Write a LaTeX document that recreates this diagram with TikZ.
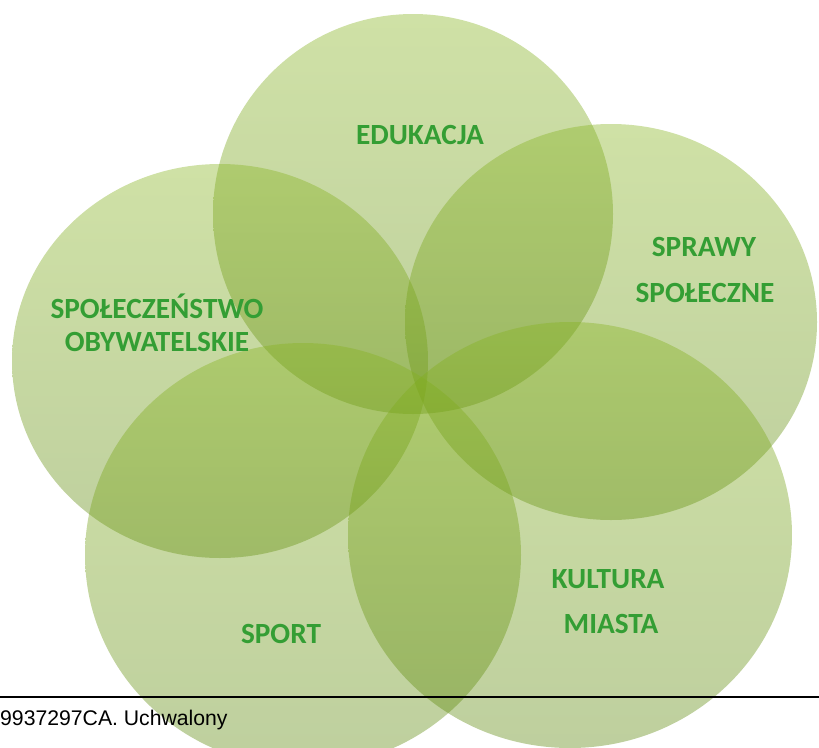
\documentclass[tikz,border=0pt]{standalone}
\usepackage{fontspec}
\setmainfont{Carlito}
\newfontfamily\arialfont{Liberation Sans}
\definecolor{lblgreen}{RGB}{52,158,52}
\definecolor{ctop}{RGB}{135,180,32}
\definecolor{cbot}{RGB}{92,135,12}
\begin{document}
\begin{tikzpicture}[x=1pt,y=-1pt,
  venn/.style={top color=ctop,bottom color=cbot,fill opacity=0.4,draw=none},
  lbl/.style={font=\fontsize{29.3}{33}\selectfont\bfseries,text=lblgreen,anchor=base,inner sep=0pt}]
\useasboundingbox (0,0) rectangle (819,747);
\begin{scope}
  \clip (0,0) rectangle (819,747);
  \shade[venn] (413,214) ellipse [x radius=200,y radius=200];
  \shade[venn] (611,322) ellipse [x radius=206,y radius=198];
  \shade[venn] (220,361) ellipse [x radius=208,y radius=197];
  \shade[venn] (303,555) ellipse [x radius=218,y radius=212];
  \shade[venn] (570,535) ellipse [x radius=222,y radius=213];
\end{scope}
\node[lbl] (edu) at (420,144) {EDUKACJA};
\node[lbl] (spr1) at (704,256) {SPRAWY};
\node[lbl] (spr2) at (705,302) {SPOŁECZNE};
\node[lbl] (spo1) at (157,318) {SPOŁECZEŃSTWO};
\node[lbl] (spo2) at (157,351) {OBYWATELSKIE};
\node[lbl] (sport) at (281,643) {SPORT};
\node[lbl] (kul1) at (608,588) {KULTURA};
\node[lbl] (kul2) at (611,633) {MIASTA};
\draw[line width=2.2pt] (0,697) -- (819,697);
\node[font=\arialfont\fontsize{21.2}{24}\selectfont,anchor=base west,inner sep=0pt] (foot) at (0,725) {9937297CA. Uchwalony};
\end{tikzpicture}
\end{document}
